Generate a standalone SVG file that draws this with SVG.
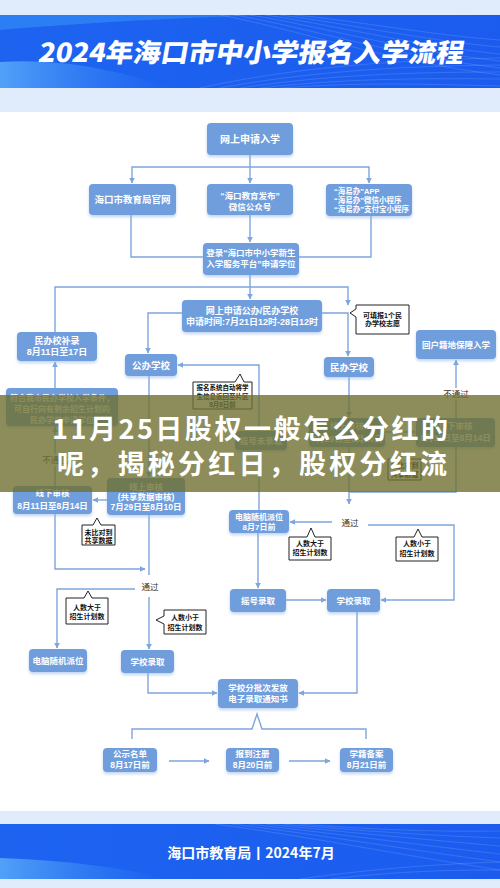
<svg xmlns="http://www.w3.org/2000/svg" width="500" height="888" viewBox="0 0 500 888">
<defs>
<style>
text{font-family:"Liberation Sans","Noto Sans CJK SC",sans-serif}
.n{fill:#6f9edd;filter:url(#sh)}
.t{fill:#fff;font-weight:700;text-anchor:middle}
.c{fill:none;stroke:#7ea5dc;stroke-width:1.4}
.a{marker-end:url(#arr)}
.co{fill:#fff;stroke:#222;stroke-width:1}
.ct{fill:#111;font-weight:700;font-size:7px;text-anchor:middle}
.lb{fill:#333;font-size:8.5px;text-anchor:middle}
.hl{fill:none;stroke:#fff;stroke-opacity:.22;stroke-width:.6}
</style>
<filter id="sh" x="-20%" y="-30%" width="140%" height="170%"><feDropShadow dx="0" dy="2" stdDeviation="1.5" flood-color="#8fb2e6" flood-opacity="0.55"/></filter>
<marker id="arr" viewBox="0 0 10 10" refX="9" refY="5" markerWidth="6" markerHeight="6" markerUnits="userSpaceOnUse" orient="auto"><path d="M0,0 L10,5 L0,10 z" fill="#7ea5dc"/></marker>
<linearGradient id="hg" x1="0" y1="0" x2="1" y2="0"><stop offset="0" stop-color="#1d63f0"/><stop offset="1" stop-color="#1b5cef"/></linearGradient>
<linearGradient id="sw" x1="0" y1="0" x2="1" y2="0"><stop offset="0" stop-color="#5fb0fa" stop-opacity=".8"/><stop offset="1" stop-color="#3a8ef6" stop-opacity="0"/></linearGradient>
</defs>
<rect x="0" y="0" width="500" height="888" fill="#e0ebfb"/>
<rect x="0" y="112" width="500" height="699" fill="#ffffff"/>
<g id="header">
<rect x="0" y="15" width="500" height="73" fill="url(#hg)"/>
<path d="M0,15 H260 C180,18 90,22 0,30 Z" fill="#3b9af7" opacity=".5"/>
<path d="M0,62 C60,58 120,70 170,88 L0,88 Z" fill="url(#sw)"/>
<path class="hl" d="M220,15 C300,30 380,60 500,75"/>
<path class="hl" d="M235,15 C310,28 390,55 500,68"/>
<path class="hl" d="M250,15 C320,26 400,50 500,61"/>
<path class="hl" d="M265,15 C330,24 410,45 500,54"/>
<path class="hl" d="M280,15 C340,22 420,40 500,47"/>
<path class="hl" d="M295,15 C350,20 430,35 500,40"/>
<path class="hl" d="M200,88 C280,70 380,60 500,58"/>
<path class="hl" d="M220,88 C300,73 390,66 500,65"/>
<path class="hl" d="M240,88 C320,76 400,72 500,72"/>
<path class="hl" d="M260,88 C340,79 410,78 500,79"/>
<path class="hl" d="M280,88 C360,82 420,84 500,86"/>
<text transform="translate(250,62) skewX(-10)" x="0" y="0" text-anchor="middle" font-size="26" font-weight="900" fill="#fff" textLength="425" lengthAdjust="spacingAndGlyphs" style="font-family:'Noto Sans CJK SC',sans-serif">2024年海口市中小学报名入学流程</text>
</g>
<g id="footer">
<rect x="0" y="824" width="500" height="55" fill="url(#hg)"/>
<path d="M0,858 C60,860 130,868 165,879 L0,879 Z" fill="url(#sw)"/>
<path class="hl" d="M215,824 C300,835 400,855 500,870"/>
<path class="hl" d="M232,824 C315,834 410,850 500,862"/>
<path class="hl" d="M249,824 C330,833 420,845 500,854"/>
<path class="hl" d="M266,824 C345,832 430,840 500,846"/>
<path class="hl" d="M283,824 C360,831 440,836 500,838"/>
<path class="hl" d="M300,824 C375,830 445,832 500,831"/>
<path class="hl" d="M300,879 C380,868 440,864 500,862"/>
<path class="hl" d="M330,879 C400,871 450,870 500,870"/>
<text x="251" y="858" text-anchor="middle" font-size="14" font-weight="700" fill="#fff" style="font-family:'Noto Sans CJK SC',sans-serif">海口市教育局丨2024年7月</text>
</g>
<g id="connectors">
<path class="c a" d="M250,155 V183"/>
<path class="c a" d="M250,167 H132 V183"/>
<path class="c a" d="M250,167 H369 V183"/>
<path class="c" d="M131,215 V257 H203"/>
<path class="c" d="M371,216 V257 H299"/>
<path class="c a" d="M250,215 V242"/>
<path class="c a" d="M250,275 V299"/>
<path class="c a" d="M55,332 V287 H348 V305"/>
<path class="c a" d="M322,313 H348 V356"/>
<path class="c a" d="M182,313 H148 V353"/>
<path class="c a" d="M259,431 V365 H178"/>
<path class="c a" d="M55,388 V362"/>
<path class="c a" d="M149,376 V477"/>
<path class="c a" d="M349,377 V417"/>
<path class="c a" d="M385,432 H415"/>
<path class="c" d="M456,418 V400"/>
<path class="c a" d="M456,388 V360"/>
<path class="c" d="M55,486 V466"/>
<path class="c a" d="M55,454 V427"/>
<path class="c a" d="M107,500 H93"/>
<path class="c a" d="M55,514 V569 H145"/>
<path class="c" d="M149,515 V575"/>
<path class="c a" d="M135,589 H57 V648"/>
<path class="c a" d="M149,597 V649"/>
<path class="c a" d="M148,673 V693 H217"/>
<path class="c a" d="M357,612 V693 H299"/>
<path class="c a" d="M349,447 V504"/>
<path class="c" d="M456,447 V492 H349"/>
<path class="c a" d="M259,510 V451"/>
<path class="c a" d="M332,522 H290"/>
<path class="c a" d="M368,525 H454 V600 H381"/>
<path class="c a" d="M258,533 V588"/>
<path class="c a" d="M286,600 H326"/>
<path class="c" d="M132,739 V729 H252 L257,714 L262,729 H366 V739"/>
<path class="c a" d="M169,761 H209"/>
<path class="c a" d="M289,761 H330"/>
</g>
<g id="labels">
<text class="lb" x="456" y="397">不通过</text>
<text class="lb" x="55" y="463">不通过</text>
<text class="lb" x="150" y="590">通过</text>
<text class="lb" x="350" y="526">通过</text>
</g>
<g id="n-apply"><rect class="n" x="207" y="123" width="86" height="32" rx="4"/><text class="t" x="250" y="142.5" font-size="10">网上申请入学</text></g>
<g id="n-web"><rect class="n" x="89" y="184" width="87" height="31" rx="4"/><text class="t" x="132.5" y="203" font-size="9.5">海口市教育局官网</text></g>
<g id="n-wechat"><rect class="n" x="207" y="184" width="86" height="31" rx="4"/><text class="t" x="250" y="199" font-size="8.5">“海口教育发布”</text><text class="t" x="250" y="210" font-size="8.5">微信公众号</text></g>
<g id="n-hyb"><rect class="n" x="326" y="184" width="86" height="32" rx="4"/><g class="t" font-size="7.5" style="text-anchor:start"><text x="334" y="193.5">“海易办”APP</text><text x="334" y="202.5">“海易办”微信小程序</text><text x="334" y="211.5">“海易办”支付宝小程序</text></g></g>
<g id="n-login"><rect class="n" x="203" y="243" width="96" height="32" rx="4"/><text class="t" x="251" y="256" font-size="8.5">登录“海口市中小学新生</text><text class="t" x="251" y="267" font-size="8.5">入学服务平台”申请学位</text></g>
<g id="n-online"><rect class="n" x="182" y="300" width="140" height="32" rx="4"/><text class="t" x="252" y="314" font-size="9">网上申请公办/民办学校</text><text class="t" x="252" y="325" font-size="9">申请时间:7月21日12时-28日12时</text></g>
<g id="n-note1"><path class="co" d="M356,305 H409 V334 H356 V317 L350,313 L356,309 Z"/><text class="ct" x="382.5" y="317.5">可填报1个民</text><text class="ct" x="382.5" y="326">办学校志愿</text></g>
<g id="n-privbu"><rect class="n" x="17" y="332" width="80" height="29" rx="4"/><text class="t" x="57" y="344" font-size="9">民办校补录</text><text class="t" x="57" y="354.5" font-size="9">8月11日至17日</text></g>
<g id="n-public"><rect class="n" x="125" y="354" width="52" height="22" rx="4"/><text class="t" x="151" y="368.5" font-size="9.5">公办学校</text></g>
<g id="n-private"><rect class="n" x="324" y="357" width="50" height="20" rx="4"/><text class="t" x="349" y="370.5" font-size="9.5">民办学校</text></g>
<g id="n-hukou"><rect class="n" x="416" y="330" width="80" height="29" rx="4"/><text class="t" x="456" y="347.5" font-size="8.5">回户籍地保障入学</text></g>
<g id="n-note2"><path class="co" d="M193,382 H235 L240,374 L244,382 H252 V409 H193 Z"/><g class="ct" style="font-size:6.5px"><text x="222.5" y="390">报名系统自动将学</text><text x="222.5" y="398.5">生信息返回至片区</text><text x="222.5" y="407">8月8日前</text></g></g>
<g id="n-fuhe"><rect class="n" x="6" y="388" width="112" height="38" rx="4"/><g class="t" font-size="8"><text x="62" y="401">符合我市民办学校入学条件，</text><text x="62" y="412">可自行向有剩余招生计划的</text><text x="62" y="423">民办学校申请学位</text></g></g>
<g id="n-yhwlq"><rect class="n" x="235" y="431" width="52" height="19" rx="4"/><text class="t" x="261" y="443.5" font-size="8.5">摇号未录取</text></g>
<g id="n-onck-r"><rect class="n" x="309" y="418" width="76" height="29" rx="4"/><text class="t" x="347" y="429" font-size="8.5">线上审核</text><text class="t" x="347" y="442" font-size="8.5">7月29日至8月10日</text></g>
<g id="n-offck-r"><rect class="n" x="416" y="418" width="79" height="29" rx="4"/><text class="t" x="455.5" y="429" font-size="8.5">线下审核</text><text class="t" x="455.5" y="441" font-size="8.5">8月11日至8月14日</text></g>
<g id="n-note-r"><path class="co" d="M388,459 H400 L404,452 L408,459 H421 V480 H388 Z"/><text class="ct" x="404.5" y="468">未比对到</text><text class="ct" x="404.5" y="476.5">共享数据</text></g>
<g id="n-onck-l"><rect class="n" x="107" y="478" width="78" height="37" rx="4"/><text class="t" x="146" y="490" font-size="8.5">线上审核</text><text class="t" x="146" y="499.5" font-size="8.5">(共享数据审核)</text><text class="t" x="146" y="509.5" font-size="8.5">7月29日至8月10日</text></g>
<g id="n-offck-l"><rect class="n" x="13" y="486" width="79" height="28" rx="4"/><text class="t" x="52.5" y="496" font-size="8.5">线下审核</text><text class="t" x="52.5" y="509" font-size="8.5">8月11日至8月14日</text></g>
<g id="overlay">
<rect x="0" y="395" width="500" height="97" fill="#6f7031" opacity="0.8"/>
<text x="250" y="439" text-anchor="middle" font-size="27" font-weight="700" fill="#fff" textLength="396" lengthAdjust="spacing" style="font-family:'Noto Sans CJK SC',sans-serif">11月25日股权一般怎么分红的</text>
<text x="252" y="474" text-anchor="middle" font-size="27" font-weight="700" fill="#fff" textLength="390" lengthAdjust="spacing" style="font-family:'Noto Sans CJK SC',sans-serif">呢，揭秘分红日，股权分红流</text>
</g>
<g id="n-note3"><path class="co" d="M82,525 H93 L97,518 L101,525 H115 V545 H82 Z"/><text class="ct" x="98.5" y="534.5">未比对到</text><text class="ct" x="98.5" y="542.5">共享数据</text></g>
<g id="n-note4"><path class="co" d="M66,598 H84 L88,591 L92,598 H108 V624 H66 Z"/><text class="ct" x="87" y="610">人数大于</text><text class="ct" x="87" y="619">招生计划数</text></g>
<g id="n-note5"><path class="co" d="M164,610 H206 V634 H164 V624 L156,620 L164,616 Z"/><text class="ct" x="185" y="620">人数小于</text><text class="ct" x="185" y="629.5">招生计划数</text></g>
<g id="n-note6"><path class="co" d="M289,537 H307 L311,528 L315,537 H331 V560 H289 Z"/><text class="ct" x="310" y="546">人数大于</text><text class="ct" x="310" y="555">招生计划数</text></g>
<g id="n-note7"><path class="co" d="M396,537 H414 L418,529 L422,537 H438 V561 H396 Z"/><text class="ct" x="417" y="546">人数小于</text><text class="ct" x="417" y="555.5">招生计划数</text></g>
<g id="n-pc-l"><rect class="n" x="29" y="649" width="58" height="23" rx="4"/><text class="t" x="58" y="663.5" font-size="8.5">电脑随机派位</text></g>
<g id="n-sch-l"><rect class="n" x="121" y="650" width="53" height="23" rx="4"/><text class="t" x="147.5" y="664.5" font-size="8.5">学校录取</text></g>
<g id="n-pc-r"><rect class="n" x="229" y="510" width="60" height="23" rx="4"/><text class="t" x="259" y="519.5" font-size="8">电脑随机派位</text><text class="t" x="259" y="530" font-size="8">8月7日前</text></g>
<g id="n-yhlq"><rect class="n" x="230" y="589" width="56" height="23" rx="4"/><text class="t" x="258" y="603.5" font-size="8.5">摇号录取</text></g>
<g id="n-sch-r"><rect class="n" x="327" y="589" width="53" height="23" rx="4"/><text class="t" x="353.5" y="603.5" font-size="8.5">学校录取</text></g>
<g id="n-notice"><rect class="n" x="218" y="679" width="80" height="29" rx="4"/><text class="t" x="258" y="691" font-size="8.5">学校分批次发放</text><text class="t" x="258" y="702" font-size="8.5">电子录取通知书</text></g>
<g id="n-gs"><rect class="n" x="103" y="748" width="54" height="24" rx="4"/><text class="t" x="130" y="756.5" font-size="8.5">公示名单</text><text class="t" x="130" y="767.5" font-size="8.5">8月17日前</text></g>
<g id="n-bd"><rect class="n" x="226" y="748" width="53" height="24" rx="4"/><text class="t" x="252.5" y="756.5" font-size="8.5">报到注册</text><text class="t" x="252.5" y="767.5" font-size="8.5">8月20日前</text></g>
<g id="n-xj"><rect class="n" x="340" y="748" width="53" height="24" rx="4"/><text class="t" x="366.5" y="756.5" font-size="8.5">学籍备案</text><text class="t" x="366.5" y="767.5" font-size="8.5">8月21日前</text></g>
</svg>
